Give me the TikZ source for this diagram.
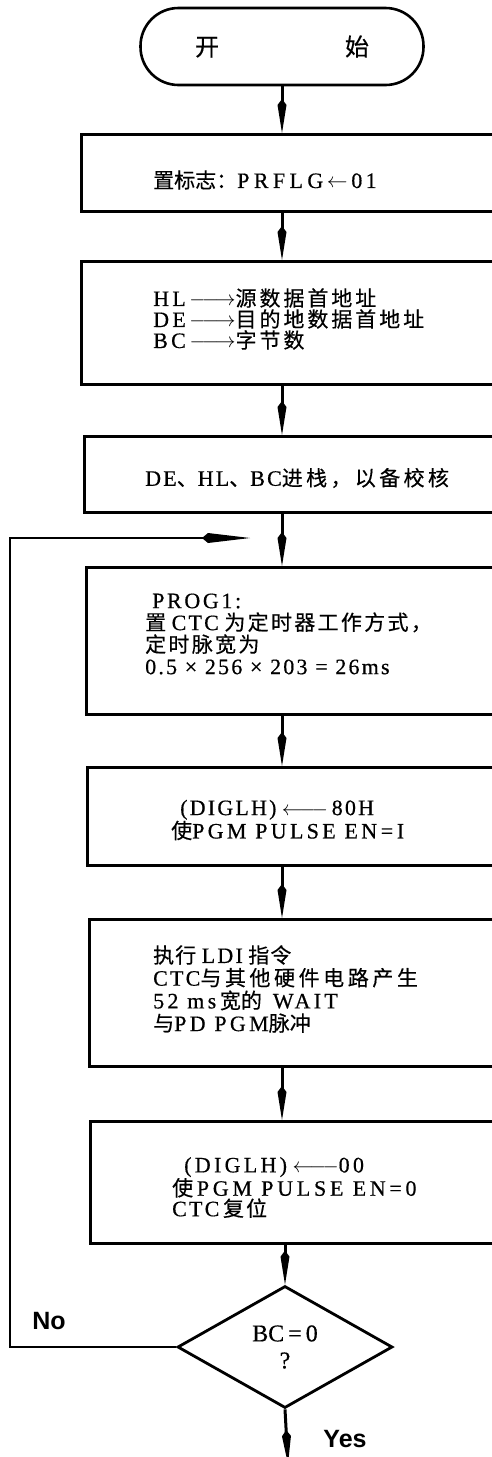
\documentclass[tikz,border=0pt]{standalone}
\usepackage{fontspec}
\setmainfont{Liberation Serif}[FakeBold=0.5]
\newfontfamily\cjk{Noto Sans CJK SC}[FakeBold=0.4]
\newfontfamily\labfont{Liberation Sans}
\usetikzlibrary{arrows.meta,shapes.geometric}
% CJK text: optional letter spacing, size 21pt
\newcommand\zh[2][0]{{\cjk\addfontfeature{LetterSpace=#1}\fontsize{21}{\baselineskip}\selectfont #2}}
\newcommand\widetxt[2][10]{{\addfontfeature{LetterSpace=#1}#2}}
\newcommand\lrarr{$\relbar\joinrel\relbar\joinrel\rightarrow$}
\newcommand\llarr{$\leftarrow\joinrel\relbar\joinrel\relbar$}
\begin{document}
\begin{tikzpicture}[x=1pt,y=-1pt,
  procbox/.style={draw, line width=2.6pt, rectangle, anchor=north west, minimum width=470pt, inner sep=0pt},
  term/.style={draw, line width=2.6pt, rounded corners=38pt, minimum width=283pt, minimum height=77pt, inner sep=0pt},
  dec/.style={draw, diamond, line width=2.8pt, minimum width=215pt, minimum height=122pt, inner sep=0pt, align=center, font=\fontsize{24}{25}\selectfont},
  txt/.style={anchor=west, align=left, inner sep=0pt},
  arr/.style={line width=3pt, -{Kite[length=34pt,width=9pt,inset=6pt]}},
  looparr/.style={line width=2.6pt, -{Kite[length=48pt,width=10pt,inset=6pt]}},
  lab/.style={font=\labfont\bfseries\fontsize{25}{28}\selectfont, inner sep=0pt}]
\clip (0,0) rectangle (492,1457);
\fill[white] (0,0) rectangle (492,1457);

% shapes
\node[term] (start) at (282,46.5) {\fontsize{24}{28}\selectfont{\cjk 开}\hspace{126pt}{\cjk 始}};
\node[procbox, minimum height=77pt]  (b1) at (80,133) {};
\node[procbox, minimum height=123pt] (b2) at (80,260) {};
\node[procbox, minimum height=76pt]  (b3) at (83,435) {};
\node[procbox, minimum height=147pt] (b4) at (85,566) {};
\node[procbox, minimum height=98pt]  (b5) at (86,766) {};
\node[procbox, minimum height=147pt] (b6) at (88,918) {};
\node[procbox, minimum height=122pt] (b7) at (89,1120) {};
\node[dec] (d) at (285,1347) {BC\,=\,0\\[2pt]?};

% texts
\node[txt, font=\fontsize{22}{22}\selectfont] (t1) at (153,180)
  {\zh{置标志：}\widetxt[20]{PRFLG}\,$\leftarrow$\,\widetxt[15]{01}};
\node[txt, font=\fontsize{22}{21}\selectfont] (t2) at (153,319)
  {\widetxt[15]{HL}\,\lrarr\zh[14]{源数据首地址}\\
   \widetxt[15]{DE}\,\lrarr\zh[14]{目的地数据首地址}\\
   \widetxt[15]{BC}\,\lrarr\zh[14]{字节数}};
\node[txt, font=\fontsize{22}{22}\selectfont] (t3) at (145,478)
  {\widetxt{DE}\zh[16]{、}\widetxt{HL}\zh[16]{、}\widetxt{BC}\zh[16]{进栈，以备校核}};
\node[txt, font=\fontsize{22}{22}\selectfont] (t4) at (145,634)
  {\hspace{7pt}\widetxt[12]{PROG1:}\\
   \zh{置} \widetxt{CTC} \zh[11]{为定时器工作方式，}\\
   \zh[11]{定时脉宽为}\\
   \widetxt[10]{0.5 × 256 × 203 = 26ms}};
\node[txt, font=\fontsize{22}{20}\selectfont] (t5) at (171,820)
  {\hspace{9pt}\widetxt[10]{(DIGLH)} \llarr\,\widetxt[10]{80H}\\
   \zh{使}\widetxt[15]{PGM PULSE EN\,=\,I}};
\node[txt, font=\fontsize{22}{22.7}\selectfont] (t6) at (153,989)
  {\zh[5]{执行} \widetxt[10]{LDI} \zh[5]{指令}\\
   \widetxt[10]{CTC}\zh[17]{与其他硬件电路产生}\\
   \widetxt[15]{52 ms}\,\zh{宽的}\,\,\,\widetxt[15]{WAIT}\\
   \zh{与}\widetxt[15]{PD PGM}\zh{脉冲}};
\node[txt, font=\fontsize{22}{20.5}\selectfont] (t7) at (172,1187.5)
  {\hspace{12pt}\widetxt[15]{(DIGLH)} \llarr\widetxt[15]{00}\\
   \zh{使}\,\widetxt[17]{PGM PULSE EN\,=\,0}\\
   \widetxt[10]{CTC}\,\zh[10]{复位}};

% labels
\node[lab] (no) at (49,1321) {No};
\node[lab] (yes) at (345,1439) {Yes};

% connector helpers
\coordinate (lc) at (10,538);
\coordinate (loopend) at (250,538);
\coordinate (yend) at (288,1464);

% connectors
\draw[arr] (start.south) -- (b1.north -| start.south);
\draw[arr] (b1.south -| start) -- (b2.north -| start);
\draw[arr] (b2.south -| start) -- (b3.north -| start);
\draw[arr] (b3.south -| start) -- (b4.north -| start);
\draw[arr] (b4.south -| start) -- (b5.north -| start);
\draw[arr] (b5.south -| start) -- (b6.north -| start);
\draw[arr] (b6.south -| start) -- (b7.north -| start);
\draw[arr] (b7.south -| d.north) -- (d.north);
\draw[arr] (d.south) -- (yend);
\draw[looparr] (d.west) -| (lc) -- (loopend);
\end{tikzpicture}
\end{document}
